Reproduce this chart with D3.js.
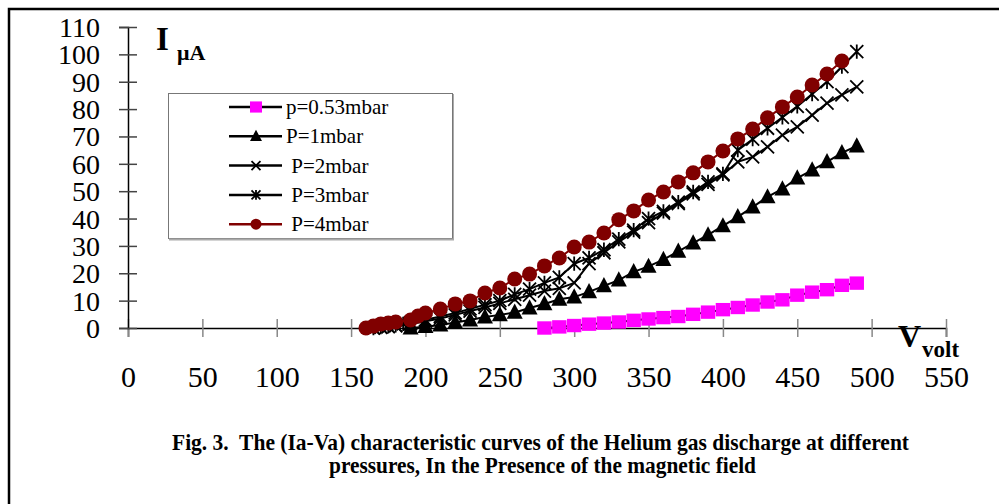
<!DOCTYPE html>
<html>
<head>
<meta charset="utf-8">
<script src="https://cdnjs.cloudflare.com/ajax/libs/d3/7.8.5/d3.min.js"></script>
<style>
body { margin: 0; background: #fff; }
svg { display: block; font-family: "Liberation Serif", "Times New Roman", serif; }
</style>
</head>
<body>
<div id="chart"></div>
<script>
// tick values
var xTicks = [0, 50, 100, 150, 200, 250, 300, 350, 400, 450, 500, 550];
var yTicks = [0, 10, 20, 30, 40, 50, 60, 70, 80, 90, 100, 110];

var seriesLabels = ["p=0.53mbar", "P=1mbar", " P=2mbar", " P=3mbar", " P=4mbar"];

// p = 0.53 mbar (squares)
var v053 = [280, 290, 300, 310, 320, 330, 340, 350, 360, 370, 380, 390, 400, 410, 420, 430, 440, 450, 460, 470, 480, 490];
var i053 = [0, 0.4, 0.9, 1.4, 1.8, 2.2, 2.8, 3.3, 3.8, 4.2, 5, 5.8, 6.7, 7.5, 8.4, 9.5, 10.3, 12, 13.1, 14, 15.6, 16.4];

// P = 1 mbar (triangles)
var v1 = [190, 200, 210, 220, 230, 240, 250, 260, 270, 280, 290, 300, 310, 320, 330, 340, 350, 360, 370, 380, 390, 400, 410, 420, 430, 440, 450, 460, 470, 480, 490];
var i1 = [0, 0.5, 1.1, 2, 2.9, 4, 4.8, 5.7, 7.3, 8.8, 10.5, 11.3, 13.2, 15.4, 17.5, 20.5, 22.5, 25, 28, 31, 34, 37.3, 40.6, 44.2, 47.9, 50.8, 54.8, 57.7, 60.7, 64, 66.5];

// P = 2 mbar (x)
var v2 = [165, 170, 175, 180, 190, 200, 210, 220, 230, 240, 250, 260, 270, 280, 290, 300, 310, 320, 330, 340, 350, 360, 370, 380, 390, 400, 410, 420, 430, 440, 450, 460, 470, 480, 490];
var i2 = [0, 0.2, 0.5, 0.8, 1.5, 2.5, 3.5, 4.8, 6.2, 7.5, 9, 10.5, 12, 13.5, 14.5, 16.5, 23.5, 27.5, 31.5, 35, 38.5, 42, 45.5, 49, 52.5, 56, 60.7, 62.5, 66.2, 70.5, 73.5, 77.8, 82.2, 85.2, 88.1];

// P = 3 mbar (asterisk)
var v3 = [165, 170, 175, 180, 185, 190, 200, 210, 220, 230, 240, 250, 260, 270, 280, 290, 300, 310, 320, 330, 340, 350, 360, 370, 380, 390, 400, 410, 420, 430, 440, 450, 460, 470, 480, 490];
var i3 = [0, 0.3, 0.6, 1, 1.5, 2, 3, 4.2, 5.5, 7, 8.5, 10, 12.3, 14.2, 16.5, 18.5, 23.5, 25.6, 28.6, 32.5, 35.8, 40, 42.6, 46, 49.7, 53.4, 56.3, 65, 69, 73, 77, 81, 85.5, 90, 95.5, 101];

// P = 4 mbar (circles)
var v4 = [160, 165, 170, 175, 180, 190, 195, 200, 210, 220, 230, 240, 250, 260, 270, 280, 290, 300, 310, 320, 330, 340, 350, 360, 370, 380, 390, 400, 410, 420, 430, 440, 450, 460, 470, 480];
var i4 = [0, 0.7, 1.5, 1.8, 2.2, 2.9, 4.4, 5.5, 6.9, 8.8, 9.9, 12.8, 14.6, 17.9, 19.7, 22.7, 25.6, 29.6, 31.4, 34.7, 39.6, 42.8, 46.8, 49.7, 53.4, 56.7, 60.7, 64.7, 69.1, 72.7, 76.8, 80.8, 84.4, 88.8, 92.8, 97.6];

var width = 999, height = 504;
var svg = d3.select("#chart").append("svg")
    .attr("width", width)
    .attr("height", height);

// frame
svg.append("path")
    .attr("d", "M9,504 V9 H999")
    .attr("fill", "none")
    .attr("stroke", "black")
    .attr("stroke-width", 2.5);

var x = d3.scaleLinear().domain([0, 550]).range([128, 946]);
var y = d3.scaleLinear().domain([0, 110]).range([328, 27]);

// x axis
var gx = svg.append("g")
    .attr("transform", "translate(0," + y(0) + ")")
    .call(d3.axisBottom(x).tickValues(xTicks).tickSizeOuter(0).tickSize(9));
gx.select(".domain").attr("stroke", "black").attr("stroke-width", 1.5);
gx.selectAll(".tick line").attr("y1", -9).attr("y2", 9).attr("stroke", "#888").attr("stroke-width", 1.5);
gx.selectAll(".tick text")
    .attr("y", 59).attr("dy", 0)
    .attr("font-size", 30).attr("font-family", "Liberation Serif").attr("fill", "black");

// y axis
var gy = svg.append("g")
    .attr("transform", "translate(" + x(0) + ",0)")
    .call(d3.axisLeft(y).tickValues(yTicks).tickSizeOuter(0).tickSize(9));
gy.select(".domain").attr("stroke", "black").attr("stroke-width", 1.5);
gy.selectAll(".tick line").attr("x1", 9).attr("x2", -9).attr("stroke", "#444").attr("stroke-width", 1.5);
gy.selectAll(".tick text")
    .attr("x", -28).attr("dy", "0.34em")
    .attr("font-size", 28).attr("font-family", "Liberation Serif").attr("fill", "black");

// axis titles
var ti = svg.append("text").attr("x", 156).attr("y", 50).attr("font-weight", "bold");
ti.append("tspan").attr("font-size", 33).text("I");
ti.append("tspan").attr("x", 177).attr("y", 60).attr("font-size", 22).text("\u03bcA");

var tv = svg.append("text").attr("x", 898).attr("y", 347).attr("font-weight", "bold");
tv.append("tspan").attr("font-size", 32).text("V");
tv.append("tspan").attr("x", 922).attr("y", 357).attr("font-size", 23).text("volt");

// marker shapes
function markerPath(kind, s) {
    if (kind == "x") return "M" + (-s) + "," + (-s) + "L" + s + "," + s + "M" + (-s) + "," + s + "L" + s + "," + (-s);
    if (kind == "star") return "M" + (-s) + "," + (-s) + "L" + s + "," + s + "M" + (-s) + "," + s + "L" + s + "," + (-s) + "M0," + (-s * 1.1) + "L0," + (s * 1.1);
    if (kind == "tri") return "M0," + (-s * 1.1) + "L" + s + "," + (s * 0.8) + "L" + (-s) + "," + (s * 0.8) + "Z";
    return "";
}

function drawMarker(g, kind, color, s) {
    if (kind == "square") {
        g.append("rect").attr("x", -s).attr("y", -s * 0.93).attr("width", 2 * s).attr("height", 1.86 * s).attr("fill", color);
    } else if (kind == "circle") {
        g.append("circle").attr("r", s).attr("fill", color);
    } else if (kind == "tri") {
        g.append("path").attr("d", markerPath(kind, s)).attr("fill", color);
    } else {
        g.append("path").attr("d", markerPath(kind, s)).attr("fill", "none")
            .attr("stroke", color).attr("stroke-width", 1.8);
    }
}

var series = [
    { v: v053, i: i053, kind: "square", color: "#ff00ff", line: "black", size: 7.2 },
    { v: v1, i: i1, kind: "tri", color: "black", line: "black", size: 8 },
    { v: v2, i: i2, kind: "x", color: "black", line: "black", size: 6.5 },
    { v: v3, i: i3, kind: "star", color: "black", line: "black", size: 6.5 },
    { v: v4, i: i4, kind: "circle", color: "#800000", line: "#800000", size: 7.5 }
];

var line = d3.line().x(d => x(d[0])).y(d => y(d[1]));

series.forEach(s => {
    var pts = s.v.map((v, k) => [v, s.i[k]]);
    var g = svg.append("g");
    g.append("path")
        .attr("d", line(pts))
        .attr("fill", "none")
        .attr("stroke", s.line)
        .attr("stroke-width", 2);
    g.selectAll("g.pt")
        .data(pts)
        .enter()
        .append("g")
        .attr("class", "pt")
        .attr("transform", d => "translate(" + x(d[0]) + "," + y(d[1]) + ")")
        .each(function () { drawMarker(d3.select(this), s.kind, s.color, s.size); });
});

// legend
var lg = svg.append("g");
lg.append("rect")
    .attr("x", 168.5).attr("y", 93.5).attr("width", 284).attr("height", 145)
    .attr("fill", "white").attr("stroke", "#777").attr("stroke-width", 1);
lg.append("line")
    .attr("x1", 169).attr("x2", 454).attr("y1", 239.5).attr("y2", 239.5)
    .attr("stroke", "#aaa").attr("stroke-width", 2);
lg.append("line")
    .attr("x1", 453.5).attr("x2", 453.5).attr("y1", 94).attr("y2", 240)
    .attr("stroke", "#aaa").attr("stroke-width", 1);

var legendSizes = [6, 6, 4.5, 4.5, 5.5];
series.forEach((s, k) => {
    var ry = 107 + k * 29.3;
    lg.append("line")
        .attr("x1", 229).attr("x2", 282).attr("y1", ry).attr("y2", ry)
        .attr("stroke", s.line).attr("stroke-width", 2.5);
    var mg = lg.append("g").attr("transform", "translate(256," + ry + ")");
    drawMarker(mg, s.kind, s.color, legendSizes[k]);
    lg.append("text")
        .attr("x", 286).attr("y", ry + 7)
        .attr("font-size", 21)
        .style("white-space", "pre")
        .text(seriesLabels[k]);
});

// caption
svg.append("text")
    .attr("x", 172).attr("y", 450)
    .attr("font-size", 23).attr("font-weight", "bold")
    .attr("textLength", 737).attr("lengthAdjust", "spacingAndGlyphs")
    .style("white-space", "pre")
    .text("Fig. 3.  The (Ia-Va) characteristic curves of the Helium gas discharge at different");
svg.append("text")
    .attr("x", 329).attr("y", 473)
    .attr("font-size", 23).attr("font-weight", "bold")
    .attr("textLength", 427).attr("lengthAdjust", "spacingAndGlyphs")
    .text("pressures, In the Presence of the magnetic field");
</script>
</body>
</html>
